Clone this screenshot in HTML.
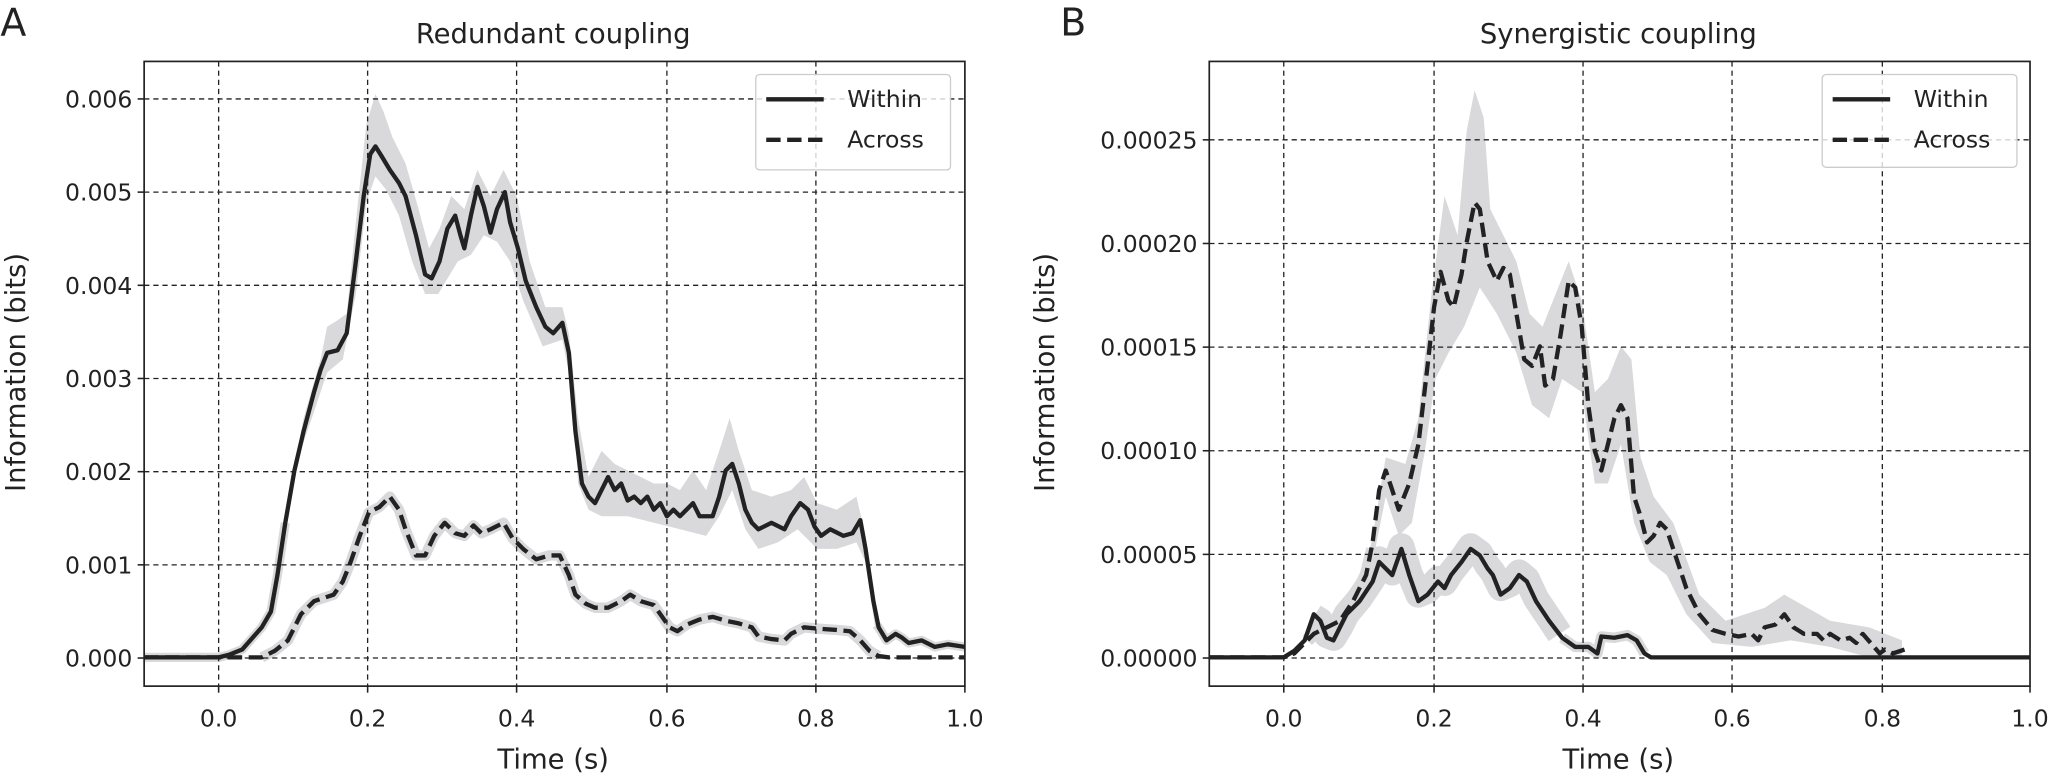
<!DOCTYPE html>
<html><head><meta charset="utf-8"><style>body{margin:0;background:#fff}svg{display:block}text{font-family:"DejaVu Sans","Liberation Sans",sans-serif;fill:#222}</style></head>
<body>
<svg width="2050" height="775" viewBox="0 0 1568 593" xmlns="http://www.w3.org/2000/svg">
<defs>
<clipPath id="cA"><rect x="110" y="47" width="628" height="478"/></clipPath>
<clipPath id="cB"><rect x="925" y="47" width="628" height="478"/></clipPath>
</defs>
<!-- Panel A -->
<text x="0" y="27" font-size="29">A</text>
<text x="423" y="33" font-size="21" text-anchor="middle">Redundant coupling</text>
<g clip-path="url(#cA)">
<g fill="#d9d9db" stroke="none">
<polygon points="218,395 232,320 245,275 250,250 258,245 265,240 272,170 280,95 287,72 293,85 300,105 310,125 320,160 328,190 336,175 345,150 355,160 365,130 375,150 385,130 395,150 405,200 417,235 430,235 435,255 442,320 450,365 460,345 470,355 480,360 490,365 500,370 510,370 520,375 530,360 540,375 550,345 558,320 565,345 575,375 590,380 605,375 615,365 625,385 640,390 655,380 662,410 670,470 670,485 662,430 655,415 640,420 625,420 610,405 595,415 580,420 570,405 560,375 550,395 540,410 520,405 500,400 480,395 460,395 450,390 442,370 438,300 430,260 415,265 400,230 390,200 380,185 370,180 360,195 350,200 335,225 325,225 315,200 305,165 295,145 287,135 280,155 272,225 262,275 250,285 240,315 228,350 218,410"/>
</g>
<g fill="none" stroke-linejoin="round" stroke-linecap="butt" stroke="#d9d9db">
<polyline stroke-width="7" points="110,503 167,503 175,501 185,497 200,480 207,468 212,440 218,400"/>
<polyline stroke-width="7" points="670,478 672,480 678,490 685,485 690,488 695,492 705,490 715,495 725,493 738,495"/>
<polyline stroke-width="8" points="200,503 210,498 220,490 230,470 240,460 255,455 262,445 268,430 275,410 282,392 290,388 298,380 305,390 310,405 318,425 325,425 332,410 340,400 348,408 355,410 362,402 368,408 375,405 385,400 392,412 400,420 410,428 420,425 428,425 435,440 440,455 448,462 455,465 465,465 475,460 482,455 490,460 500,463 505,470 512,480 518,483 525,478 535,474 545,472 555,475 565,477 575,480 580,487 590,489 600,490 605,485 615,480 625,481 640,482 650,483 658,490 665,498 672,502"/>
</g>
</g>
<g clip-path="url(#cB)">
<polygon fill="#d9d9db" points="1050,410 1060,350 1075,355 1085,320 1095,225 1105,150 1115,180 1122,100 1128,69 1135,90 1140,160 1150,180 1160,200 1170,240 1180,250 1192,220 1200,200 1210,230 1220,300 1230,290 1240,265 1248,275 1255,350 1265,380 1280,400 1300,455 1320,475 1350,465 1365,455 1400,475 1430,480 1455,490 1455,503 1430,503 1400,495 1370,490 1340,495 1310,492 1290,470 1275,440 1262,430 1250,400 1240,340 1230,370 1220,370 1210,300 1195,290 1185,320 1172,310 1160,270 1145,240 1132,220 1120,250 1108,270 1098,290 1090,345 1080,400 1070,410 1060,380 1050,430 1040,460"/>
<g fill="none" stroke-linejoin="round" stroke-linecap="butt" stroke="#d9d9db">
<polyline stroke-width="20" points="1005,472 1010,475 1015,486 1020,488 1025,480 1030,470 1040,458 1050,443 1055,428 1060,433 1065,438 1072,418 1078,438 1085,455 1092,452 1100,443 1105,446 1110,438 1118,428 1125,418 1132,423 1138,433 1142,438 1148,450 1155,447 1162,438 1168,443 1175,458 1185,473 1193,485"/>
<polyline stroke-width="10" points="1000,490 1005,485 1015,480 1025,475 1035,460 1045,440 1050,420"/>
<polyline stroke-width="8" points="1195,488 1205,495 1215,495 1222,500 1225,487 1235,488 1245,486 1252,490 1258,500"/>
</g>
</g>
<g stroke="#222" stroke-width="1" stroke-dasharray="4,3" fill="none">
<line x1="167" y1="47" x2="167" y2="525"/><line x1="281" y1="47" x2="281" y2="525"/><line x1="395" y1="47" x2="395" y2="525"/><line x1="510" y1="47" x2="510" y2="525"/><line x1="624" y1="47" x2="624" y2="525"/>
<line x1="110" y1="503.5" x2="738" y2="503.5"/><line x1="110" y1="432.2" x2="738" y2="432.2"/><line x1="110" y1="360.9" x2="738" y2="360.9"/><line x1="110" y1="289.6" x2="738" y2="289.6"/><line x1="110" y1="218.3" x2="738" y2="218.3"/><line x1="110" y1="147" x2="738" y2="147"/><line x1="110" y1="75.7" x2="738" y2="75.7"/>
</g>
<g clip-path="url(#cA)" fill="none" stroke="#222" stroke-width="3.3" stroke-linejoin="round">
<polyline points="110,503 167,503 175,501 185,497 200,480 207,468 212,440 218,400 225,360 232,330 240,300 245,283 250,270 258,268 265,255 272,200 278,150 283,118 287,112 292,120 298,130 305,140 310,150 318,180 325,210 330,213 336,200 342,175 348,165 352,180 355,190 360,165 365,143 370,158 375,178 380,160 386,147 390,170 396,190 402,215 410,235 417,250 423,255 430,247 435,270 440,330 445,370 450,380 455,385 460,375 465,365 470,375 475,370 480,383 485,380 490,385 495,380 500,390 505,385 510,395 515,390 520,395 525,390 530,385 535,395 540,395 545,395 550,380 555,360 560,355 565,370 570,390 575,400 580,405 590,400 600,405 605,395 612,385 618,390 623,403 628,410 635,405 645,410 652,408 658,398 662,420 668,460 672,480 678,490 685,485 690,488 695,492 705,490 715,495 725,493 738,495"/>
<polyline stroke-dasharray="11,5" points="110,503 200,503 210,498 220,490 230,470 240,460 255,455 262,445 268,430 275,410 282,392 290,388 298,380 305,390 310,405 318,425 325,425 332,410 340,400 348,408 355,410 362,402 368,408 375,405 385,400 392,412 400,420 410,428 420,425 428,425 435,440 440,455 448,462 455,465 465,465 475,460 482,455 490,460 500,463 505,470 512,480 518,483 525,478 535,474 545,472 555,475 565,477 575,480 580,487 590,489 600,490 605,485 615,480 625,481 640,482 650,483 658,490 665,498 672,502 680,503 738,503"/>
</g>
<rect x="110" y="47" width="628" height="478" fill="none" stroke="#222" stroke-width="1.3"/>
<g stroke="#222" stroke-width="1.2">
<line x1="167" y1="525" x2="167" y2="530"/><line x1="281" y1="525" x2="281" y2="530"/><line x1="395" y1="525" x2="395" y2="530"/><line x1="510" y1="525" x2="510" y2="530"/><line x1="624" y1="525" x2="624" y2="530"/><line x1="738" y1="525" x2="738" y2="530"/>
<line x1="105" y1="503.5" x2="110" y2="503.5"/><line x1="105" y1="432.2" x2="110" y2="432.2"/><line x1="105" y1="360.9" x2="110" y2="360.9"/><line x1="105" y1="289.6" x2="110" y2="289.6"/><line x1="105" y1="218.3" x2="110" y2="218.3"/><line x1="105" y1="147" x2="110" y2="147"/><line x1="105" y1="75.7" x2="110" y2="75.7"/>
</g>
<g font-size="18" text-anchor="middle">
<text x="167" y="556">0.0</text><text x="281" y="556">0.2</text><text x="395" y="556">0.4</text><text x="510" y="556">0.6</text><text x="624" y="556">0.8</text><text x="738" y="556">1.0</text>
</g>
<g font-size="18" text-anchor="end">
<text x="101" y="510">0.000</text><text x="101" y="438.7">0.001</text><text x="101" y="367.4">0.002</text><text x="101" y="296.1">0.003</text><text x="101" y="224.8">0.004</text><text x="101" y="153.5">0.005</text><text x="101" y="82.2">0.006</text>
</g>
<text x="423" y="588" font-size="21" text-anchor="middle">Time (s)</text>
<text transform="translate(19,285) rotate(-90)" font-size="21" text-anchor="middle">Information (bits)</text>
<rect x="578" y="57" width="149" height="73" rx="3" fill="#fff" fill-opacity="0.8" stroke="#ccc"/>
<line x1="586" y1="76" x2="630" y2="76" stroke="#222" stroke-width="3.3"/>
<line x1="586" y1="107" x2="630" y2="107" stroke="#222" stroke-width="3.3" stroke-dasharray="11,5"/>
<text x="648" y="82" font-size="18">Within</text><text x="648" y="113" font-size="18">Across</text>

<!-- Panel B -->
<text x="811" y="27" font-size="29">B</text>
<text x="1238" y="33" font-size="21" text-anchor="middle">Synergistic coupling</text>
<g stroke="#222" stroke-width="1" stroke-dasharray="4,3" fill="none">
<line x1="982" y1="47" x2="982" y2="525"/><line x1="1097" y1="47" x2="1097" y2="525"/><line x1="1211" y1="47" x2="1211" y2="525"/><line x1="1325" y1="47" x2="1325" y2="525"/><line x1="1440" y1="47" x2="1440" y2="525"/>
<line x1="925" y1="503.5" x2="1553" y2="503.5"/><line x1="925" y1="424.2" x2="1553" y2="424.2"/><line x1="925" y1="344.9" x2="1553" y2="344.9"/><line x1="925" y1="265.6" x2="1553" y2="265.6"/><line x1="925" y1="186.3" x2="1553" y2="186.3"/><line x1="925" y1="107" x2="1553" y2="107"/>
</g>
<g clip-path="url(#cB)" fill="none" stroke="#222" stroke-width="3.3" stroke-linejoin="round">
<polyline points="925,503 982,503 990,498 998,490 1005,470 1010,475 1015,488 1020,490 1025,480 1030,470 1040,460 1050,445 1055,430 1060,435 1065,440 1072,420 1078,440 1085,460 1092,455 1100,445 1105,450 1110,440 1118,430 1125,420 1132,425 1138,435 1142,440 1148,455 1155,450 1162,440 1168,445 1175,460 1185,475 1195,488 1205,495 1215,495 1222,500 1225,487 1235,488 1245,486 1252,490 1258,500 1263,503 1553,503"/>
<polyline stroke-dasharray="11,5" points="925,503 982,503 990,500 998,492 1005,485 1015,480 1025,475 1035,460 1045,440 1050,415 1055,375 1060,360 1065,375 1070,390 1078,370 1085,340 1092,280 1097,235 1102,208 1108,230 1112,235 1118,210 1122,185 1128,155 1132,160 1138,200 1145,215 1150,205 1155,210 1160,240 1166,275 1172,280 1178,265 1182,295 1188,290 1194,255 1200,215 1205,220 1210,250 1215,310 1220,345 1225,360 1230,340 1235,320 1240,310 1245,320 1250,380 1255,395 1260,415 1265,410 1270,400 1275,405 1280,420 1290,450 1300,470 1310,482 1320,485 1330,487 1340,485 1345,490 1350,480 1358,478 1365,470 1372,480 1380,485 1390,485 1395,490 1400,485 1408,490 1415,488 1420,492 1425,485 1432,493 1438,500 1442,497 1448,500 1457,497"/>
</g>
<rect x="925" y="47" width="628" height="478" fill="none" stroke="#222" stroke-width="1.3"/>
<g stroke="#222" stroke-width="1.2">
<line x1="982" y1="525" x2="982" y2="530"/><line x1="1097" y1="525" x2="1097" y2="530"/><line x1="1211" y1="525" x2="1211" y2="530"/><line x1="1325" y1="525" x2="1325" y2="530"/><line x1="1440" y1="525" x2="1440" y2="530"/><line x1="1553" y1="525" x2="1553" y2="530"/>
<line x1="920" y1="503.5" x2="925" y2="503.5"/><line x1="920" y1="424.2" x2="925" y2="424.2"/><line x1="920" y1="344.9" x2="925" y2="344.9"/><line x1="920" y1="265.6" x2="925" y2="265.6"/><line x1="920" y1="186.3" x2="925" y2="186.3"/><line x1="920" y1="107" x2="925" y2="107"/>
</g>
<g font-size="18" text-anchor="middle">
<text x="982" y="556">0.0</text><text x="1097" y="556">0.2</text><text x="1211" y="556">0.4</text><text x="1325" y="556">0.6</text><text x="1440" y="556">0.8</text><text x="1553" y="556">1.0</text>
</g>
<g font-size="18" text-anchor="end">
<text x="916" y="510">0.00000</text><text x="916" y="430.7">0.00005</text><text x="916" y="351.4">0.00010</text><text x="916" y="272.1">0.00015</text><text x="916" y="192.8">0.00020</text><text x="916" y="113.5">0.00025</text>
</g>
<text x="1238" y="588" font-size="21" text-anchor="middle">Time (s)</text>
<text transform="translate(806,285) rotate(-90)" font-size="21" text-anchor="middle">Information (bits)</text>
<rect x="1394" y="57" width="149" height="71" rx="3" fill="#fff" fill-opacity="0.8" stroke="#ccc"/>
<line x1="1402" y1="76" x2="1446" y2="76" stroke="#222" stroke-width="3.3"/>
<line x1="1402" y1="107" x2="1446" y2="107" stroke="#222" stroke-width="3.3" stroke-dasharray="11,5"/>
<text x="1464" y="82" font-size="18">Within</text><text x="1464" y="113" font-size="18">Across</text>
</svg>
</body></html>
